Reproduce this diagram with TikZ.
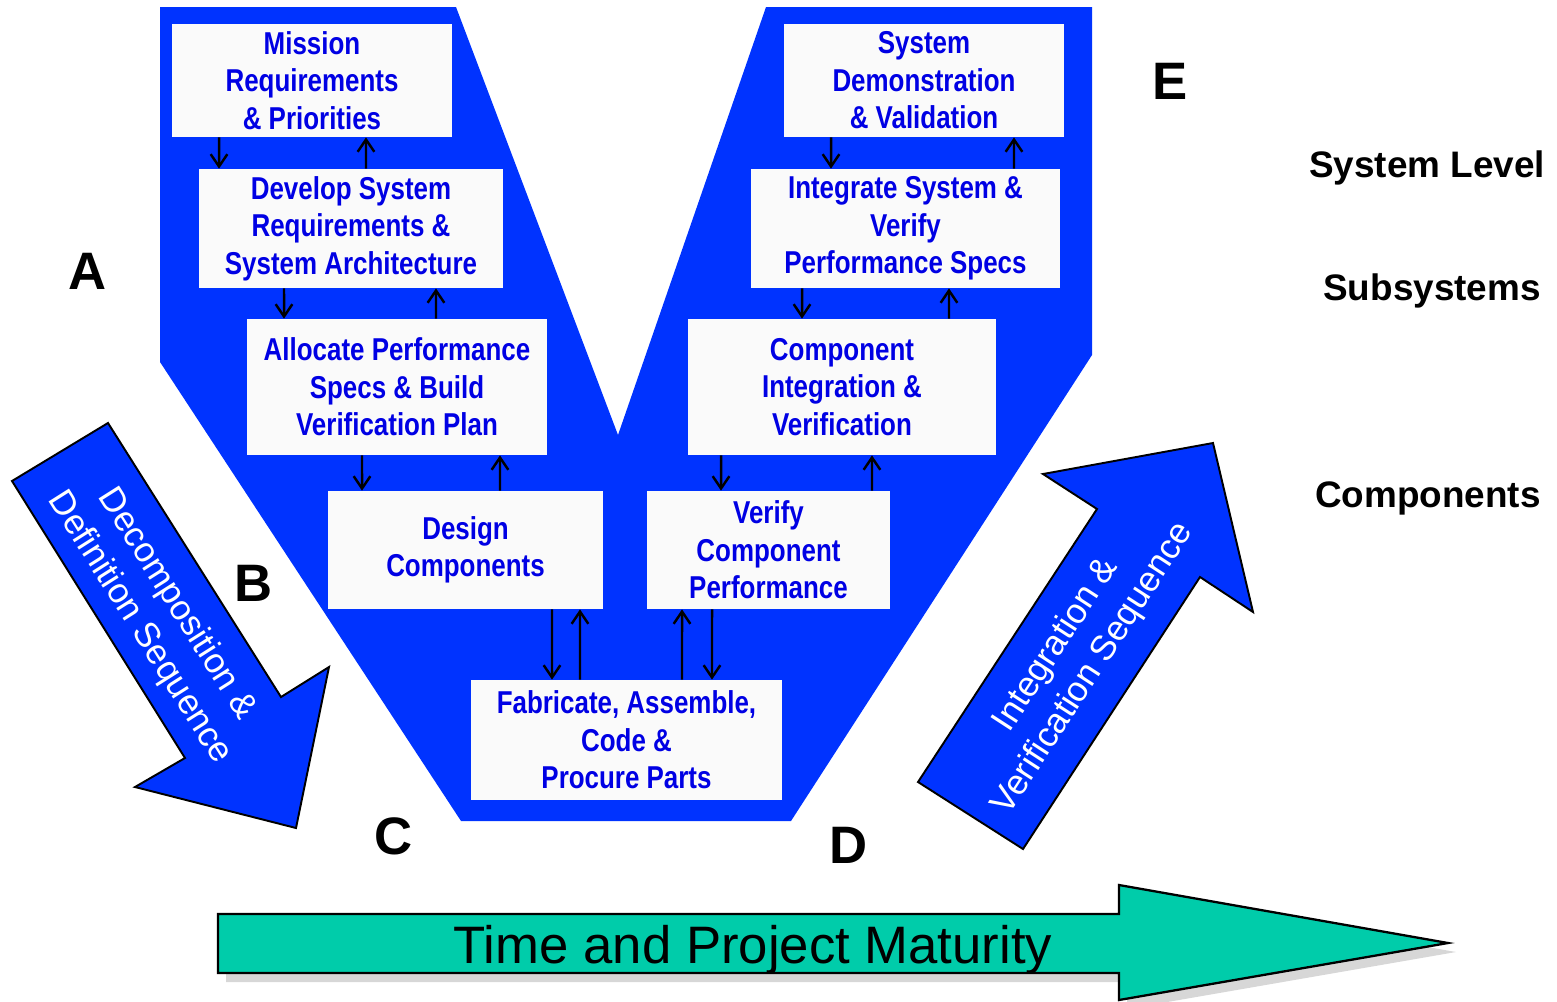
\documentclass[tikz,border=0pt]{standalone}
\usepackage{fontspec}
\setmainfont{Liberation Sans}
\newfontfamily\narrowfont[FakeStretch=0.82]{Liberation Sans}
\usepackage{xcolor}
\usetikzlibrary{arrows.meta}

\definecolor{vblue}{RGB}{0,51,255}
\definecolor{stageblue}{RGB}{0,0,228}
\definecolor{stagefill}{RGB}{250,250,250}
\definecolor{timeteal}{RGB}{0,204,170}

\tikzset{
  stage/.style={fill=stagefill, text=stageblue, align=center, inner sep=0pt,
    font=\narrowfont\bfseries\fontsize{18}{21.3}\selectfont},
  flow/.style={-{Straight Barb[length=7pt,width=9.5pt,line width=1.4pt]}, line width=1.4pt},
  letter/.style={anchor=base, font=\bfseries\fontsize{30}{36}\selectfont},
  level/.style={anchor=base, font=\bfseries\fontsize{21}{25}\selectfont},
  seqarrow/.style={fill=vblue, draw=black, line width=1.1pt, line join=miter},
  seqtext/.style={text=white, align=center, font=\fontsize{20}{25}\selectfont}
}

\begin{document}
\begin{tikzpicture}[x=0.02cm,y=-0.02cm]
\useasboundingbox (0,0) rectangle (1557,1001);

% the V
\fill[vblue] (160,7) -- (456,7) -- (618,435) -- (766,7) -- (1092,7) -- (1092,355)
  -- (791,821) -- (461,821) -- (160,362) -- cycle;

% left leg
\node[stage, minimum width=5.6cm, minimum height=2.26cm] (mission) at (312,80.5) {Mission\\Requirements\\\& Priorities};
\node[stage, minimum width=6.08cm, minimum height=2.38cm] (develop) at (351,228.5) {Develop System\\Requirements \&\\System Architecture};
\node[stage, minimum width=6cm, minimum height=2.72cm] (allocate) at (397,387) {Allocate Performance\\Specs \& Build\\Verification Plan};
\node[stage, minimum width=5.5cm, minimum height=2.36cm] (design) at (465.5,550) {Design\\Components};

% bottom
\node[stage, minimum width=6.22cm, minimum height=2.4cm] (fabricate) at (626.5,740) {Fabricate, Assemble,\\Code \&\\Procure Parts};

% right leg
\node[stage, minimum width=4.86cm, minimum height=2.36cm] (verify) at (768.5,550) {Verify\\Component\\Performance};
\node[stage, minimum width=6.16cm, minimum height=2.72cm] (compint) at (842,387) {Component\\Integration \&\\Verification};
\node[stage, minimum width=6.18cm, minimum height=2.38cm] (integrate) at (905.5,228.5) {Integrate System \&\\Verify\\Performance Specs};
\node[stage, minimum width=5.6cm, minimum height=2.26cm] (demo) at (924,80.5) {System\\Demonstration\\\& Validation};

% down and up between the stages
\draw[flow] ([xshift=-1.86cm]mission.south) -- ([xshift=-2.64cm]develop.north);
\draw[flow] ([xshift=0.3cm]develop.north) -- ([xshift=1.08cm]mission.south);
\draw[flow] ([xshift=-1.34cm]develop.south) -- ([xshift=-2.26cm]allocate.north);
\draw[flow] ([xshift=0.78cm]allocate.north) -- ([xshift=1.7cm]develop.south);
\draw[flow] ([xshift=-0.7cm]allocate.south) -- ([xshift=-2.07cm]design.north);
\draw[flow] ([xshift=0.69cm]design.north) -- ([xshift=2.06cm]allocate.south);
\draw[flow] ([xshift=1.73cm]design.south) -- ([xshift=-1.49cm]fabricate.north);
\draw[flow] ([xshift=-0.93cm]fabricate.north) -- ([xshift=2.29cm]design.south);
\draw[flow] ([xshift=1.11cm]fabricate.north) -- ([xshift=-1.73cm]verify.south);
\draw[flow] ([xshift=-1.13cm]verify.south) -- ([xshift=1.71cm]fabricate.north);
\draw[flow] ([xshift=-2.42cm]compint.south) -- ([xshift=-0.95cm]verify.north);
\draw[flow] ([xshift=2.07cm]verify.north) -- ([xshift=0.6cm]compint.south);
\draw[flow] ([xshift=-2.07cm]integrate.south) -- ([xshift=-0.8cm]compint.north);
\draw[flow] ([xshift=2.14cm]compint.north) -- ([xshift=0.87cm]integrate.south);
\draw[flow] ([xshift=-1.86cm]demo.south) -- ([xshift=-1.49cm]integrate.north);
\draw[flow] ([xshift=2.17cm]integrate.north) -- ([xshift=1.8cm]demo.south);

% sequence arrows
\draw[seqarrow] (12,481) -- (108,423) -- (281,697) -- (329,667) -- (296,828)
  -- (135,787) -- (185,758) -- cycle;
\node[seqtext, rotate=-57.7] (decomptext) at (158,616) {Decomposition \&\\Definition Sequence};
\draw[seqarrow] (918,782) -- (1097,509) -- (1043,474) -- (1213,443) -- (1253,612)
  -- (1200,577) -- (1023,849) -- cycle;
\node[seqtext, rotate=57] (integtext) at (1075,657) {Integration \&\\Verification Sequence};

% letters
\node[letter] (la) at (87.5,289) {A};
\node[letter] (lb) at (254,601) {B};
\node[letter] (lc) at (394,854) {C};
\node[letter] (ld) at (849,863) {D};
\node[letter] (le) at (1170,99) {E};

% levels
\node[level] (syslevel) at (1427,177) {System Level};
\node[level] (subsys) at (1432,300) {Subsystems};
\node[level] (comps) at (1428,507) {Components};

% time arrow
\fill[gray!70, opacity=.45] (226,923) -- (1127,923) -- (1127,894) -- (1456,952) -- (1127,1009)
  -- (1127,982) -- (226,982) -- cycle;
\draw[fill=timeteal, line width=1.3pt, line join=miter] (218,914) -- (1119,914) -- (1119,885) -- (1448,943)
  -- (1119,1000) -- (1119,973) -- (218,973) -- cycle;
\node[anchor=base, font=\fontsize{30}{36}\selectfont] (maturity) at (753,963) {Time and Project Maturity};
\end{tikzpicture}
\end{document}
